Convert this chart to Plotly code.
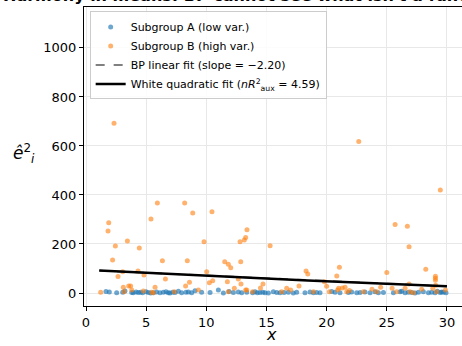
import plotly.graph_objects as go

# Subgroup A: small squared residuals (low variance group)
a_x = [1.66, 1.94, 2.55, 3.05, 3.24, 3.80, 3.93, 4.16, 4.35, 4.54, 4.71, 4.99, 5.18, 5.38,
       5.60, 5.87, 6.15, 6.43, 6.65, 6.84, 6.98, 7.20, 7.40, 7.68, 7.95, 8.31, 8.51, 8.78,
       9.06, 9.61, 10.31, 11.00, 11.42, 11.89, 12.25, 12.66, 12.94, 13.36, 13.85, 14.05,
       14.24, 14.46, 14.69, 14.88, 15.16, 15.57, 15.85, 16.13, 16.46, 16.82, 17.23, 17.51,
       18.20, 18.62, 18.90, 19.17, 19.45, 20.42, 20.70, 21.11, 21.81, 22.08, 22.50, 22.78,
       23.19, 23.61, 24.02, 24.30, 24.72, 25.55, 26.10, 26.24, 26.52, 26.79, 27.07, 27.35,
       27.63, 28.04, 28.46, 28.73, 29.01, 29.20, 29.43, 29.56, 29.70, 29.92]
a_y = [6.2, 4.1, 1.3, 3.5, 8.7, 2.0, 0.6, 4.4, 1.8, 3.1, 0.9, 5.6, 2.3, 0.4,
       1.1, 3.8, 0.7, 2.6, 5.1, 1.4, 0.3, 3.3, 1.9, 6.8, 0.8, 2.9, 4.6, 1.2,
       9.7, 3.0, 2.2, 12.1, 0.5, 6.4, 1.6, 3.9, 0.9, 2.7, 1.0, 4.8,
       0.6, 2.1, 3.6, 1.3, 0.4, 5.3, 2.4, 0.8, 1.7, 3.2, 0.5, 2.8,
       1.1, 4.0, 0.7, 2.5, 1.4, 6.1, 3.4, 0.9, 1.8, 4.3, 0.6, 2.0,
       3.7, 1.2, 5.0, 0.8, 2.3, 1.5, 4.9, 7.2, 0.7, 3.1, 1.9, 0.4,
       2.6, 5.5, 1.0, 3.3, 0.6, 6.7, 1.6, 4.2, 2.9, 0.8]

# Subgroup B: large, scattered squared residuals (high variance group)
b_x = [2.33, 22.67, 29.45, 5.93, 8.20, 8.87, 10.47, 5.40,
       1.89, 1.83, 2.44, 2.21, 2.66, 3.05, 3.44, 4.43, 4.32, 4.82, 6.35, 6.60,
       8.42, 8.60, 9.81, 10.03, 10.25, 10.53, 11.53, 11.83, 12.03, 11.75, 12.66,
       12.86, 12.80, 13.16, 13.27, 13.38, 12.88, 12.33, 13.27, 14.71, 14.50, 15.30,
       18.29, 18.43, 17.70, 19.81, 20.00, 20.84, 21.06, 21.30, 25.00, 25.44, 25.69,
       26.71, 26.85, 26.85, 28.24, 29.04, 29.04, 29.04, 29.06,
       1.22, 3.16, 3.10, 3.55, 3.71, 3.80, 4.77, 5.46, 5.60, 5.74, 7.34, 8.28, 9.34,
       11.83, 13.36, 13.85, 16.26, 16.68, 17.01, 18.90, 20.23, 20.92, 21.00, 21.53,
       21.67, 21.89, 23.05, 23.77, 24.16, 24.49, 25.82, 26.52, 26.93, 27.21, 27.90,
       28.82, 29.15, 29.87]
b_y = [693, 618, 420, 367, 367, 326, 332, 302,
       287, 253, 192, 135, 67, 87, 212, 184, 90, 73, 132, 57,
       132, 44, 209, 87, 42, 50, 128, 117, 103, 46, 57,
       128, 209, 216, 226, 258, 37, 19, 12, 37, 20, 193,
       90, 78, 29, 46, 28, 69, 105, 20, 84, 19, 280,
       272, 189, 37, 97, 68, 60, 52, 32,
       2.7, 5.4, 23, 29, 29, 12, 8, 3, 1.4, 23, 5, 29, 12,
       5, 12, 5, 5, 19, 12, 5, 5, 12, 19, 23,
       5, 10, 5, 15, 5, 23, 5, 19, 5, 1.4, 15,
       19, 5, 12]

# Fitted auxiliary regressions of e^2 on x
bp_intercept, bp_slope = 93.5, -2.20
white_coef = [95.0, -2.60, 0.012]  # c0 + c1*x + c2*x^2
white_stat = 4.59
fit_x = [1.1 + i * (30.0 - 1.1) / 60 for i in range(61)]

bp_y = [bp_intercept + bp_slope * x for x in fit_x]
white_y = [white_coef[0] + white_coef[1] * x + white_coef[2] * x * x for x in fit_x]

font = "DejaVu Sans"
fig = go.Figure()
fig.add_trace(go.Scatter(
    x=a_x, y=a_y, mode="markers", name="Subgroup A (low var.)",
    marker=dict(color="#1f77b4", size=5, opacity=0.65, line=dict(width=0))))
fig.add_trace(go.Scatter(
    x=b_x, y=b_y, mode="markers", name="Subgroup B (high var.)",
    marker=dict(color="#ff7f0e", size=5, opacity=0.6, line=dict(width=0))))
fig.add_trace(go.Scatter(
    x=fit_x, y=bp_y, mode="lines",
    name=f"BP linear fit (slope = \u2212{abs(bp_slope):.2f})",
    line=dict(color="#808080", width=1.8, dash="dash")))
fig.add_trace(go.Scatter(
    x=fit_x, y=white_y, mode="lines",
    name=f"White quadratic fit (<i>nR</i><sup>2</sup><sub>aux</sub> = {white_stat:.2f})",
    line=dict(color="black", width=2.4)))

axis_common = dict(
    showline=True, linecolor="black", linewidth=1.1, mirror=True,
    ticks="outside", ticklen=4, tickwidth=1, tickcolor="black",
    showgrid=True, gridcolor="#e8e8e8", gridwidth=0.8, zeroline=False,
    tickfont=dict(family=font, size=13, color="black"),
)
fig.update_xaxes(range=[-0.166, 31.25], tickvals=[0, 5, 10, 15, 20, 25, 30], **axis_common)
fig.update_yaxes(range=[-53, 1167], tickvals=[0, 200, 400, 600, 800, 1000], **axis_common)

fig.update_layout(
    width=462, height=346,
    margin=dict(l=84, r=0, t=7, b=40),
    plot_bgcolor="white", paper_bgcolor="white",
    font=dict(family=font, color="black"),
    showlegend=True,
    legend=dict(x=0.015, y=0.985, xanchor="left", yanchor="top",
                bgcolor="rgba(255,255,255,0.85)", bordercolor="#cccccc", borderwidth=1,
                font=dict(family=font, size=11), tracegroupgap=0),
    annotations=[
        dict(text="<b>Harmony in means: BP cannot see what isn't a function of x</b>",
             xref="paper", yref="paper", x=0.5, y=1.0, xanchor="center", yanchor="bottom",
             yshift=1, showarrow=False, font=dict(family=font, size=16, color="black"),
             borderpad=0),
        dict(text="<i>\u00ea</i><sup>2</sup><sub><i>i</i></sub>",
             xref="paper", yref="paper", x=-0.16, y=0.51, xanchor="center", yanchor="middle",
             showarrow=False, font=dict(family=font, size=17, color="black")),
        dict(text="<i>x</i>",
             xref="paper", yref="paper", x=0.497, y=-0.1338, xanchor="center", yanchor="bottom",
             showarrow=False, font=dict(family=font, size=16, color="black")),
    ],
)

fig.write_html("out.html")
